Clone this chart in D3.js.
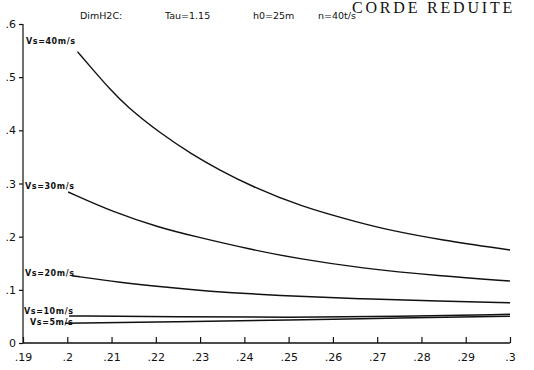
<!DOCTYPE html>
<html><head><meta charset="utf-8">
<script src="https://cdn.jsdelivr.net/npm/d3@7"></script>
<style>body{margin:0;background:#fff}svg{display:block}</style>
</head><body>
<svg id="c" width="534" height="370"></svg>
<script>
const xTicks = [0.19,0.2,0.21,0.22,0.23,0.24,0.25,0.26,0.27,0.28,0.29,0.3];
const xTickLabels = [".19",".2",".21",".22",".23",".24",".25",".26",".27",".28",".29",".3"];
const yTicks = [0,0.1,0.2,0.3,0.4,0.5,0.6];
const yTickLabels = ["0",".1",".2",".3",".4",".5",".6"];
const seriesNames = ["Vs=40m/s","Vs=30m/s","Vs=20m/s","Vs=10m/s","Vs=5m/s"];
const vs40x = [0.2023,0.2059,0.2097,0.2134,0.2209,0.2285,0.2345,0.2413,0.2526,0.2661,0.2729,0.2842,0.30];
const vs40y = [0.548,0.513,0.477,0.445,0.395,0.353,0.325,0.296,0.257,0.226,0.212,0.194,0.175];
const vs30x = [0.2002,0.2104,0.2209,0.2285,0.2413,0.2526,0.2661,0.2842,0.30];
const vs30y = [0.284,0.246,0.217,0.201,0.176,0.158,0.141,0.126,0.1165];
const vs20x = [0.2010,0.2119,0.2232,0.2307,0.2481,0.2661,0.2842,0.30];
const vs20y = [0.1265,0.114,0.104,0.098,0.089,0.083,0.0785,0.0758];
const vs10x = [0.2004,0.225,0.25,0.275,0.30];
const vs10y = [0.051,0.049,0.048,0.050,0.054];
const vs5x = [0.1995,0.225,0.25,0.275,0.30];
const vs5y = [0.037,0.040,0.043,0.047,0.0505];
const titleParts = ["DimH2C:","Tau=1.15","h0=25m","n=40t/s"];
const bigTitle = "CORDE REDUITE";

const svg = d3.select("#c");
const x = d3.scaleLinear().domain([0.19,0.3]).range([23,510]);
const y = d3.scaleLinear().domain([0,0.6]).range([343,24]);
const ink = "#111";
const font = "'DejaVu Sans', sans-serif";

// axes
const xAxis = d3.axisBottom(x).tickValues(xTicks).tickSize(-6).tickFormat((d,i)=>xTickLabels[i]);
const gx = svg.append("g").attr("transform","translate(0,343)").call(xAxis);
gx.select(".domain").attr("stroke",ink).attr("stroke-width",1.5).attr("d","M23,0H510");
gx.selectAll(".tick line").attr("stroke",ink).attr("stroke-width",1.2);
gx.selectAll(".tick text").attr("fill",ink).attr("font-family",font).attr("font-size",11).attr("y",10).attr("dy","0.71em");

const yAxis = d3.axisLeft(y).tickValues(yTicks).tickSize(4).tickFormat((d,i)=>yTickLabels[i]);
const gy = svg.append("g").attr("transform","translate(23,0)").call(yAxis);
gy.select(".domain").attr("stroke",ink).attr("stroke-width",1.2).attr("d","M0,343V24");
gy.selectAll(".tick line").attr("stroke",ink).attr("stroke-width",1.2);
gy.selectAll(".tick text").attr("fill",ink).attr("font-family",font).attr("font-size",11).attr("x",-7);

// curves
const line = d3.line().x(d=>x(d[0])).y(d=>y(d[1])).curve(d3.curveBasis);
const series = [[vs40x,vs40y],[vs30x,vs30y],[vs20x,vs20y],[vs10x,vs10y],[vs5x,vs5y]];
series.forEach(([xs,ys],k)=>{
  const pts = xs.map((v,i)=>[v,ys[i]]);
  svg.append("path").attr("d",line(pts)).attr("fill","none").attr("stroke",ink)
     .attr("stroke-width",k<2?1.4:1.5);
});

// series labels
const labelPos = [[26,44],[25,189],[25,276],[24,314],[30,325]];
seriesNames.forEach((s,i)=>{
  svg.append("text").attr("x",labelPos[i][0]).attr("y",labelPos[i][1])
    .attr("font-family",font).attr("font-size",8).attr("letter-spacing",0.6)
    .attr("font-weight","bold").attr("fill",ink).text(s);
});

// title
const titleX = [80,165,253,318];
titleParts.forEach((t,i)=>{
  svg.append("text").attr("x",titleX[i]).attr("y",19).attr("font-family",font)
    .attr("font-size",9.5).attr("fill",ink).text(t);
});
svg.append("text").attr("x",352).attr("y",13).attr("font-family","'Liberation Serif', serif")
  .attr("font-size",16).attr("letter-spacing",2.8).attr("fill",ink).text(bigTitle);
</script>
</body></html>
